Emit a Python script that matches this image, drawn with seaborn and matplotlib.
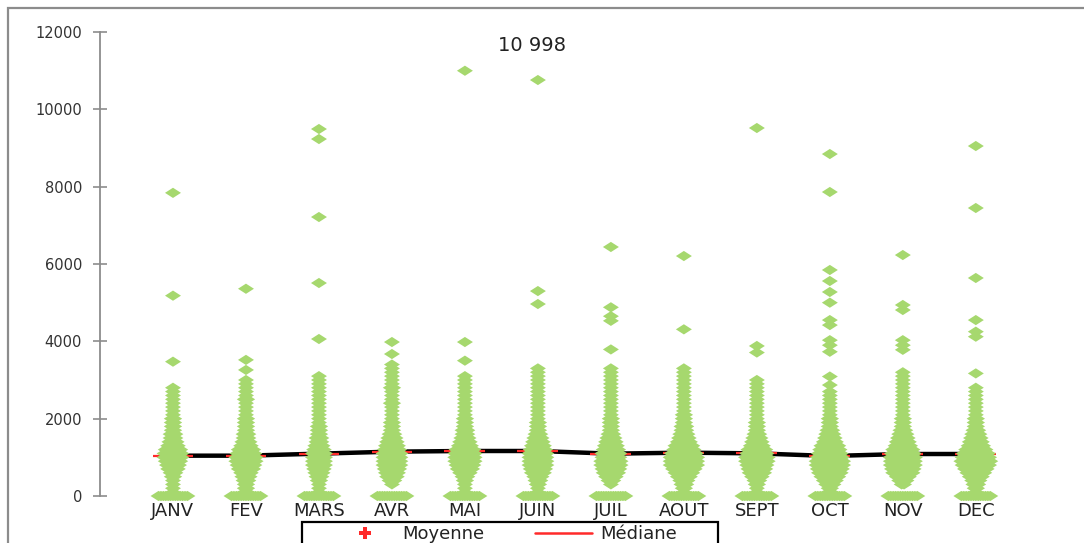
import numpy as np
import pandas as pd
import matplotlib
matplotlib.use("Agg")
import matplotlib.pyplot as plt
import seaborn as sns
from matplotlib.lines import Line2D
from matplotlib.patches import Rectangle

# ---------------- data ----------------
months = ["JANV", "FEV", "MARS", "AVR", "MAI", "JUIN",
          "JUIL", "AOUT", "SEPT", "OCT", "NOV", "DEC"]
medians = [1043, 1043, 1095, 1147, 1164, 1164, 1095, 1121, 1103, 1034, 1086, 1086]
means = [1130, 1140, 1190, 1230, 1250, 1260, 1190, 1210, 1180, 1110, 1170, 1170]

bin_width = 100  # value bins: 0, 100, 200, ...
cnt_janv = [13, 1, 1, 1, 1, 2, 3, 5, 6, 7, 8, 8, 7, 5, 4, 3, 3, 2, 2, 2, 2, 1, 1, 1, 1, 1, 1, 1, 1]
cnt_fev = [13, 2, 2, 2, 3, 4, 5, 7, 8, 9, 9, 8, 7, 5, 4, 3, 3, 2, 2, 2, 2, 1, 1, 1, 1, 2, 1, 1, 1, 1, 1]
cnt_mars = [13, 1, 1, 1, 2, 3, 4, 5, 6, 6, 6, 6, 5, 4, 3, 3, 2, 2, 2, 1, 1, 1, 1, 1, 1, 1, 1, 1, 1, 1, 1, 1]
cnt_avr = [13, 0, 0, 1, 3, 5, 6, 7, 8, 8, 8, 8, 7, 6, 5, 4, 3, 2, 2, 2, 1, 1, 1, 1, 2, 1, 1, 1, 2, 1, 1, 1, 1, 1, 1]
cnt_mai = [13, 1, 1, 1, 2, 3, 5, 7, 8, 9, 9, 9, 8, 6, 5, 4, 3, 3, 2, 2, 2, 1, 1, 1, 1, 1, 1, 1, 1, 1, 1, 1]
cnt_juin = [13, 1, 1, 2, 3, 4, 6, 7, 8, 8, 8, 8, 7, 6, 5, 4, 3, 2, 2, 2, 1, 1, 1, 1, 1, 1, 1, 1, 1, 1, 1, 1, 1, 1]
cnt_juil = [13, 0, 0, 1, 3, 5, 7, 8, 9, 9, 8, 8, 7, 6, 5, 4, 3, 2, 2, 2, 2, 1, 1, 1, 1, 1, 1, 1, 1, 1, 1, 1, 1, 1]
cnt_aout = [13, 1, 2, 3, 4, 6, 8, 10, 12, 12, 12, 11, 9, 8, 6, 5, 4, 3, 3, 2, 2, 2, 1, 1, 1, 1, 1, 1, 1, 1, 1, 1, 1, 1]
cnt_sept = [13, 1, 1, 2, 3, 5, 7, 8, 9, 10, 10, 9, 8, 6, 5, 4, 3, 2, 2, 2, 1, 1, 1, 1, 1, 1, 1, 1, 1, 1, 1]
cnt_oct = [13, 2, 2, 4, 6, 8, 10, 11, 12, 12, 11, 10, 9, 8, 6, 5, 4, 3, 2, 2, 2, 1, 1, 1, 1, 1, 1, 1]
cnt_nov = [13, 0, 0, 2, 4, 6, 9, 10, 11, 11, 11, 10, 9, 7, 6, 5, 4, 3, 2, 2, 2, 1, 1, 1, 1, 1, 1, 1, 1, 1, 1, 1, 1]
cnt_dec = [13, 1, 2, 3, 4, 6, 8, 10, 12, 13, 12, 11, 9, 7, 6, 5, 4, 3, 2, 2, 2, 1, 1, 1, 1, 1, 1, 1, 1]

out_janv = [3474, 5181, 7840]
out_fev = [3260, 3520, 5360]
out_mars = [4060, 5508, 7215, 9232, 9491]
out_avr = [3672, 3982]
out_mai = [3500, 3982, 10998]
out_juin = [4965, 5300, 10758]
out_juil = [3790, 4530, 4650, 4880, 6440]
out_aout = [4310, 6206]
out_sept = [3710, 3880, 9517]
out_oct = [2870, 3090, 3730, 3900, 4030, 4420, 4550, 5000, 5276, 5560, 5845, 7862, 8844]
out_nov = [3780, 3900, 4030, 4810, 4940, 6232]
out_dec = [3170, 4120, 4250, 4550, 5638, 7448, 9051]

annotation = "10 998"

counts = [cnt_janv, cnt_fev, cnt_mars, cnt_avr, cnt_mai, cnt_juin,
          cnt_juil, cnt_aout, cnt_sept, cnt_oct, cnt_nov, cnt_dec]
outliers = [out_janv, out_fev, out_mars, out_avr, out_mai, out_juin,
            out_juil, out_aout, out_sept, out_oct, out_nov, out_dec]

# ---------------- build point table ----------------
dx = 0.033  # horizontal spread step between stacked points (category units)
rows = []
for i, (cnt, outs) in enumerate(zip(counts, outliers)):
    pos = i + 1
    for j, n in enumerate(cnt):
        for k in range(n):
            rows.append((pos + (k - (n - 1) / 2) * dx, j * bin_width))
    for v in outs:
        rows.append((pos, v))
pts = pd.DataFrame(rows, columns=["x", "valeur"])
summary = pd.DataFrame({"x": np.arange(1, 13), "mois": months,
                        "mediane": medians, "moyenne": means})

# ---------------- figure ----------------
sns.set_theme(style="white")
plt.rcParams["font.family"] = ["DejaVu Sans"]
fig = plt.figure(figsize=(10.84, 5.43), dpi=100)
ax = fig.add_axes([100 / 1084, 47 / 543, 978 / 1084, 464 / 543])

green = "#A6D86E"
red = "#FF2A2A"
diamond = [(-1, 0), (0, 0.64), (1, 0), (0, -0.64), (-1, 0)]

sns.lineplot(data=summary, x="x", y="mediane", color="black", lw=3.2,
             ax=ax, zorder=1, legend=False)
ax.hlines(summary["mediane"], summary["x"] - 0.28, summary["x"] + 0.28,
          color=red, lw=1.6, zorder=2)
ax.scatter(summary["x"], summary["moyenne"], marker="P", s=60, color=red,
           zorder=2, linewidths=0)
sns.scatterplot(data=pts, x="x", y="valeur", marker=diamond, s=132,
                color=green, edgecolor="none", linewidth=0, ax=ax,
                zorder=3, clip_on=False, legend=False)

ax.text(5.92, 11640, annotation, ha="center", va="center", fontsize=14,
        color="#222222")

ax.set_xlim(0, 13.4)
ax.set_ylim(0, 12000)
ax.set_yticks(range(0, 12001, 2000))
ax.set_xticks(summary["x"])
ax.set_xticklabels(months)
ax.set_xlabel("")
ax.set_ylabel("")
for s in ["top", "right", "bottom"]:
    ax.spines[s].set_visible(False)
ax.spines["left"].set_color("#8c8c8c")
ax.spines["left"].set_linewidth(1.3)
ax.tick_params(axis="y", direction="inout", length=10, width=1.2,
               color="#8c8c8c", labelsize=10.5, labelcolor="#333333", pad=8,
               left=True)
ax.tick_params(axis="x", length=0, labelsize=13, labelcolor="#222222", pad=4)
ax.grid(False)

# chart-area border (cut by the image edges)
fig.patches.append(Rectangle((8 / 1084, -0.2), 1.2, 1.2 - 8 / 543,
                             transform=fig.transFigure, fill=False,
                             edgecolor="#8c8c8c", lw=1.6, clip_on=False))

# legend frame + legend entries
fig.patches.append(Rectangle((302 / 1084, -0.1), 416 / 1084, 0.1 + 21 / 543,
                             transform=fig.transFigure, fill=False,
                             edgecolor="black", lw=1.6, clip_on=False))
handles = [Line2D([], [], color=red, marker="P", markersize=9, lw=0,
                  markeredgewidth=0),
           Line2D([], [], color=red, lw=1.8)]
leg = fig.legend(handles, ["Moyenne", "Médiane"], loc="upper left",
                 bbox_to_anchor=(336 / 1084, 18 / 543), ncol=2, frameon=False,
                 fontsize=13, handlelength=3.2, handletextpad=0.45,
                 columnspacing=2.8, borderpad=0, borderaxespad=0)
for t in leg.get_texts():
    t.set_color("#222222")

fig.savefig("out.png", dpi=100)
